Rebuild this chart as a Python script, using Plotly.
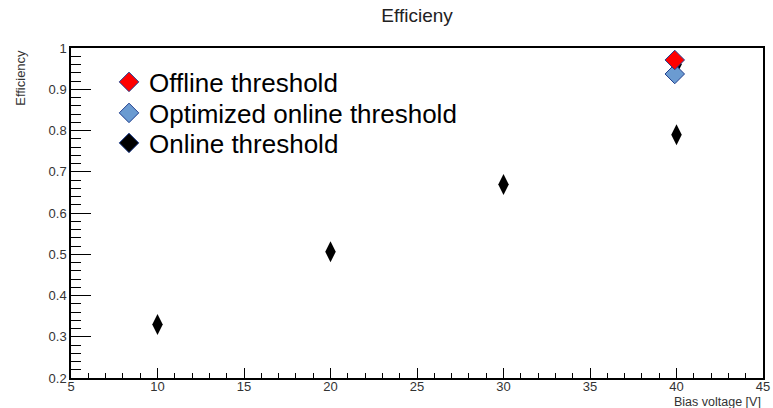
import plotly.graph_objects as go

# Data
online_x = [10, 20, 30, 40, 40]
online_y = [0.330, 0.506, 0.669, 0.790, 0.960]
optimized_x = [39.9]
optimized_y = [0.937]
offline_x = [39.9]
offline_y = [0.971]

y_tickvals = [0.2, 0.3, 0.4, 0.5, 0.6, 0.7, 0.8, 0.9, 1.0]
y_ticktext = ["0.2", "0.3", "0.4", "0.5", "0.6", "0.7", "0.8", "0.9", "1"]
x_tickvals = [5, 10, 15, 20, 25, 30, 35, 40, 45]
x_ticktext = ["5", "10", "15", "20", "25", "30", "35", "40", "45"]

outline = "#1f3f8f"
FONT = "Liberation Sans, Arial, sans-serif"

fig = go.Figure()

# Online (drawn first, below the others)
fig.add_trace(go.Scatter(
    x=online_x, y=online_y, mode="markers", showlegend=False,
    marker=dict(symbol="diamond-tall", size=15, color="black",
                line=dict(width=0)),
    hoverinfo="skip"))
# Optimized online
fig.add_trace(go.Scatter(
    x=optimized_x, y=optimized_y, mode="markers",
    name="Optimized online threshold", legend="legend2",
    marker=dict(symbol="diamond", size=15, color="#6b9bd1",
                line=dict(width=1, color=outline))))
# Offline
fig.add_trace(go.Scatter(
    x=offline_x, y=offline_y, mode="markers",
    name="Offline threshold", legend="legend",
    marker=dict(symbol="diamond", size=15, color="#ff0000",
                line=dict(width=1, color=outline))))
# Legend entry for online (regular diamond in the legend)
fig.add_trace(go.Scatter(
    x=[None], y=[None], mode="markers",
    name="Online threshold", legend="legend3",
    marker=dict(symbol="diamond", size=15, color="black",
                line=dict(width=1, color=outline))))

def leg(ypix):
    return dict(x=(109 - 71) / 692, y=(378 - ypix) / 330,
                xanchor="left", yanchor="middle",
                bgcolor="rgba(0,0,0,0)", borderwidth=0,
                font=dict(size=26, color="black", family=FONT),
                itemsizing="trace")

fig.update_layout(
    width=773, height=408,
    margin=dict(l=71, r=10, t=48, b=30),
    paper_bgcolor="white", plot_bgcolor="white",
    font=dict(family=FONT, color="#333333"),
    title=dict(text="Efficieny", x=0.5395, xanchor="center",
               y=0.962, yanchor="middle",
               font=dict(size=19, color="#222222")),
    showlegend=True,
    legend=leg(82),
    legend2=leg(113),
    legend3=leg(143),
    xaxis=dict(range=[5, 45], showgrid=False, zeroline=False, automargin=False,
               showline=True, linecolor="black", linewidth=1.5, mirror=True,
               ticks="inside", ticklen=10, tickwidth=1, tickcolor="black",
               tickvals=x_tickvals, ticktext=x_ticktext,
               ticklabelstandoff=-4,
               tickfont=dict(size=13, color="#333333"),
               minor=dict(ticks="inside", ticklen=5, dtick=1, tick0=5,
                          tickcolor="black", showgrid=False)),
    yaxis=dict(range=[0.2, 1.0], showgrid=False, zeroline=False, automargin=False,
               showline=True, linecolor="black", linewidth=1.5, mirror=True,
               ticks="inside", ticklen=20, tickwidth=1, tickcolor="black",
               tickvals=y_tickvals, ticktext=y_ticktext,
               tickfont=dict(size=13, color="#333333"),
               minor=dict(ticks="inside", ticklen=10, dtick=0.02, tick0=0.2,
                          tickcolor="black", showgrid=False)),
    annotations=[
        dict(text="Efficiency", xref="paper", yref="paper",
             x=-0.074, y=1.0, xanchor="center", yanchor="top",
             textangle=-90, showarrow=False,
             font=dict(size=13, color="#333333")),
        dict(text="Bias voltage [V]", xref="paper", yref="paper",
             x=1.0, y=-0.0727, xanchor="right", yanchor="middle",
             showarrow=False, font=dict(size=12.5, color="#333333")),
    ],
)

fig.write_html("out.html")
